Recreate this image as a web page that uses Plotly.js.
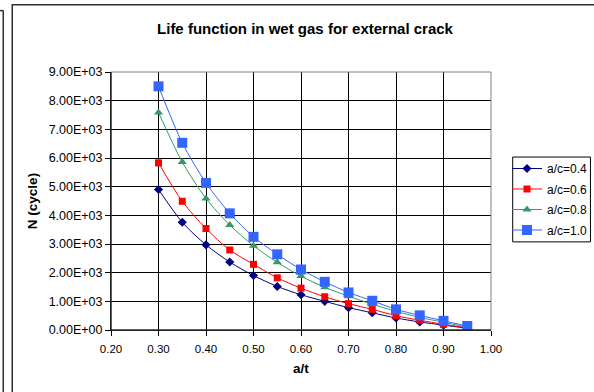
<!DOCTYPE html>
<html>
<head>
<meta charset="utf-8">
<script src="https://cdn.plot.ly/plotly-3.0.1.min.js"></script>
<style>
  html, body { margin: 0; padding: 0; background: #fff; }
  #chart { width: 594px; height: 392px; }
</style>
</head>
<body>
<div id="chart"></div>
<script>
// Crack depth ratio a/t
const aOverT = [0.30, 0.35, 0.40, 0.45, 0.50, 0.55, 0.60, 0.65, 0.70, 0.75, 0.80, 0.85, 0.90, 0.95];

// Fatigue life N (cycles) for each aspect ratio a/c
const lifeAc04 = [4900, 3760, 2970, 2370, 1900, 1520, 1230, 1000, 780, 600, 420, 280, 170, 60];
const lifeAc06 = [5830, 4490, 3540, 2790, 2290, 1820, 1460, 1160, 920, 720, 500, 340, 200, 80];
const lifeAc08 = [7590, 5860, 4590, 3660, 2940, 2360, 1880, 1490, 1180, 900, 650, 440, 270, 100];
const lifeAc10 = [8500, 6530, 5130, 4070, 3250, 2640, 2110, 1680, 1310, 1020, 720, 510, 320, 140];

const seriesNames = ['a/c=0.4', 'a/c=0.6', 'a/c=0.8', 'a/c=1.0'];

// Axis ticks
const xTickVals = [0.20, 0.30, 0.40, 0.50, 0.60, 0.70, 0.80, 0.90, 1.00];
const xTickText = ['0.20', '0.30', '0.40', '0.50', '0.60', '0.70', '0.80', '0.90', '1.00'];
const yTickVals = [0, 1000, 2000, 3000, 4000, 5000, 6000, 7000, 8000, 9000];
const yTickText = ['0.00E+00', '1.00E+03', '2.00E+03', '3.00E+03', '4.00E+03',
                   '5.00E+03', '6.00E+03', '7.00E+03', '8.00E+03', '9.00E+03'];

const FONT = 'Arial, "Liberation Sans", sans-serif';

function series(y, name, color, symbol, size) {
  return {
    x: aOverT, y: y, name: name, legendgroup: name, type: 'scatter', mode: 'lines+markers',
    line: { color: color, width: 1, shape: 'spline', smoothing: 0.8 },
    marker: { color: color, symbol: symbol, size: size, line: { width: 0 } }
  };
}

const traces = [
  series(lifeAc04, seriesNames[0], '#000080', 'diamond', 7),
  series(lifeAc06, seriesNames[1], '#FF0000', 'square', 7),
  series(lifeAc08, seriesNames[2], '#339966', 'triangle-up', 8),
  series(lifeAc10, seriesNames[3], '#3366FF', 'square', 10)
];

// Plot area in pixels: left 110.8, right 491, top 71.5, bottom 330
const L = 110.8, R = 491, T = 71.5, B = 330;
const W = R - L, H = B - T;
const px = v => (v - L) / W;
const py = v => (B - v) / H;

const layout = {
  width: 594, height: 392,
  margin: { l: L, r: 594 - R, t: T, b: 392 - B, autoexpand: false },
  paper_bgcolor: '#ffffff',
  plot_bgcolor: '#ffffff',
  showlegend: true,
  font: { family: FONT, size: 11.5, color: '#000' },
  title: {
    text: '<b>Life function in wet gas for external crack</b>',
    font: { family: FONT, size: 15, color: '#000' },
    x: 305 / 594, xref: 'container', xanchor: 'center',
    y: 1 - 28.5 / 392, yref: 'container', yanchor: 'middle'
  },
  xaxis: {
    range: [0.2, 1.0],
    tickvals: xTickVals, ticktext: xTickText,
    ticks: 'outside', ticklen: 5, tickcolor: '#000', tickwidth: 1,
    ticklabelstandoff: 3,
    showgrid: true, gridcolor: '#000', gridwidth: 1,
    showline: true, linecolor: '#000', linewidth: 1,
    zeroline: false, automargin: false,
    tickfont: { family: FONT, size: 11.5, color: '#000' },
    title: { text: '<b>a/t</b>', font: { family: FONT, size: 13.5, color: '#000' }, standoff: 9 }
  },
  yaxis: {
    range: [0, 9000],
    tickvals: yTickVals, ticktext: yTickText,
    ticks: 'outside', ticklen: 5, tickcolor: '#000', tickwidth: 1,
    showgrid: true, gridcolor: '#000', gridwidth: 1,
    showline: true, linecolor: '#000', linewidth: 1,
    zeroline: false, automargin: false,
    tickfont: { family: FONT, size: 12.5, color: '#000' },
    title: { text: '<b>N (cycle)</b>', font: { family: FONT, size: 13.5, color: '#000' }, standoff: 7 }
  },
  legend: {
    xref: 'container', yref: 'container',
    x: 507 / 594, y: 1 - 154 / 392, xanchor: 'left', yanchor: 'top',
    bgcolor: 'rgba(0,0,0,0)', borderwidth: 0,
    font: { family: FONT, size: 12, color: '#000' },
    itemwidth: 30, tracegroupgap: 1.5, traceorder: 'grouped'
  },
  shapes: [
    // plot area frame
    { type: 'rect', xref: 'paper', yref: 'paper', x0: 0, x1: 1, y0: 0, y1: 1,
      line: { color: '#808080', width: 1 }, layer: 'above' },
    // legend box
    { type: 'rect', xref: 'paper', yref: 'paper', x0: px(512.7), x1: px(590.5), y0: py(241.7), y1: py(156.7),
      line: { color: '#000', width: 1 }, fillcolor: '#fff', layer: 'below' },
    // chart frame
    { type: 'rect', xref: 'paper', yref: 'paper', x0: px(12), x1: px(600), y0: py(396), y1: py(4),
      line: { color: '#303030', width: 1.5 }, layer: 'below' },
    // neighbouring frame edge on the left
    { type: 'line', xref: 'paper', yref: 'paper', x0: px(3), x1: px(3), y0: py(396), y1: py(10),
      line: { color: '#303030', width: 1.5 } },
    { type: 'line', xref: 'paper', yref: 'paper', x0: px(-2), x1: px(3), y0: py(10), y1: py(10),
      line: { color: '#303030', width: 1.5 } },
    // x-axis and y-axis lines drawn black over the grey frame
    { type: 'line', xref: 'paper', yref: 'paper', x0: 0, x1: 1, y0: 0, y1: 0,
      line: { color: '#000', width: 1 }, layer: 'above' },
    { type: 'line', xref: 'paper', yref: 'paper', x0: 0, x1: 0, y0: 0, y1: 1,
      line: { color: '#000', width: 1 }, layer: 'above' }
  ]
};

Plotly.newPlot('chart', traces, layout, { displayModeBar: false, staticPlot: true });
</script>
</body>
</html>
